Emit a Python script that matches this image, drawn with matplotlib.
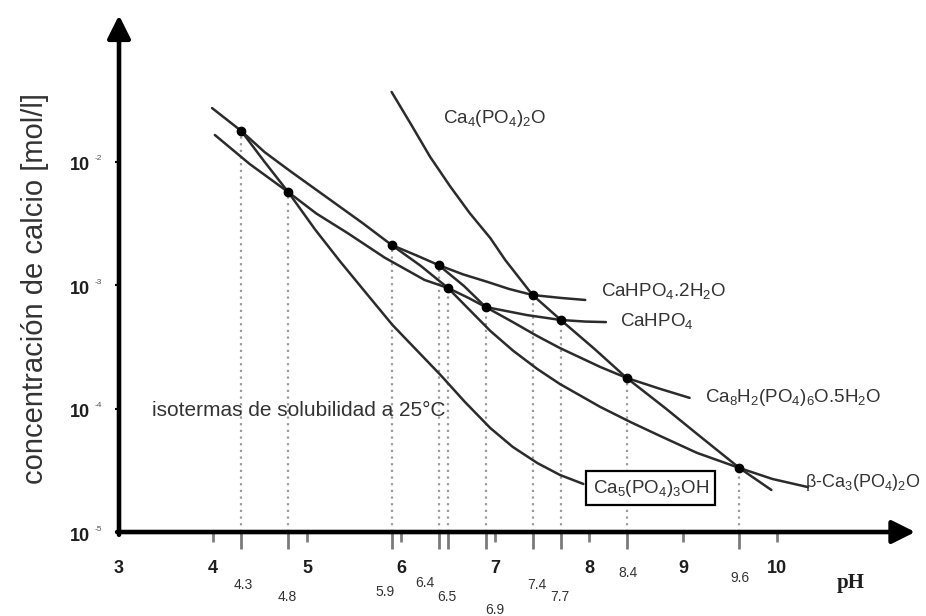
#!/usr/bin/env python3
"""Solubility isotherms of calcium phosphates at 25 C (log Ca vs pH)."""

import matplotlib
matplotlib.use("Agg")
import matplotlib.pyplot as plt

plt.rcParams["font.family"] = ["Liberation Sans", "DejaVu Sans"]
plt.rcParams["mathtext.fontset"] = "custom"
plt.rcParams["mathtext.rm"] = "Liberation Sans"
plt.rcParams["mathtext.it"] = "Liberation Sans:italic"
plt.rcParams["mathtext.bf"] = "Liberation Sans:bold"

# isotherms: pH and calcium concentration [mol/l]
DCPD_PH = [3.99, 4.3, 4.55, 4.82, 5.25, 5.59, 5.9, 6.17, 6.4, 6.66, 6.92, 7.15, 7.4, 7.71, 7.96]
DCPD_CA = [2.71e-2, 1.77e-2, 1.19e-2, 8.38e-3, 4.88e-3, 3.18e-3, 2.11e-3, 1.73e-3, 1.45e-3,
           1.22e-3, 1.06e-3, 9.29e-4, 8.3e-4, 7.85e-4, 7.57e-4]

DCPA_PH = [4.02, 4.39, 4.8, 5.1, 5.43, 5.83, 6.25, 6.5, 6.72, 6.9, 7.34, 7.7, 7.96, 8.18]
DCPA_CA = [1.64e-2, 9.55e-3, 5.66e-3, 3.79e-3, 2.64e-3, 1.66e-3, 1.10e-3, 9.46e-4, 7.85e-4,
           6.64e-4, 5.71e-4, 5.21e-4, 5.06e-4, 5.01e-4]

HA_PH = [4.3, 4.55, 4.8, 5.09, 5.35, 5.62, 5.91, 6.17, 6.42, 6.68, 6.95, 7.19, 7.45, 7.69, 7.94]
HA_CA = [1.77e-2, 9.91e-3, 5.66e-3, 2.79e-3, 1.56e-3, 8.77e-4, 4.74e-4, 2.95e-4, 1.87e-4,
         1.13e-4, 6.95e-5, 4.88e-5, 3.62e-5, 2.90e-5, 2.45e-5]

OCP_PH = [6.4, 6.67, 6.9, 7.19, 7.45, 7.69, 8.12, 8.4, 8.76, 9.07]
OCP_CA = [1.45e-3, 9.82e-4, 6.64e-4, 5.01e-4, 3.86e-4, 3.09e-4, 2.17e-4, 1.77e-4, 1.44e-4, 1.22e-4]

TCP_PH = [5.9, 6.21, 6.5, 6.73, 6.95, 7.19, 7.45, 7.69, 8.12, 8.44, 8.76, 9.15, 9.6, 9.95, 10.33]
TCP_CA = [2.11e-3, 1.43e-3, 9.46e-4, 6.28e-4, 4.25e-4, 2.95e-4, 2.09e-4, 1.58e-4, 1.03e-4,
          7.78e-5, 5.98e-5, 4.37e-5, 3.30e-5, 2.69e-5, 2.31e-5]

TTCP_PH = [5.9, 6.11, 6.31, 6.52, 6.73, 6.95, 7.11, 7.4, 7.7, 8.06, 8.4, 8.81, 9.15, 9.6, 9.94]
TTCP_CA = [3.66e-2, 1.98e-2, 1.09e-2, 6.34e-3, 3.83e-3, 2.40e-3, 1.59e-3, 8.3e-4, 5.21e-4,
           3.03e-4, 1.77e-4, 1.01e-4, 6.22e-5, 3.30e-5, 2.19e-5]

# singular points where two isotherms cross
SINGULAR_PH = [4.3, 4.8, 5.9, 6.4, 6.5, 6.9, 7.4, 7.7, 8.4, 9.6]
SINGULAR_CA = [1.77e-2, 5.66e-3, 2.11e-3, 1.45e-3, 9.46e-4, 6.64e-4, 8.3e-4, 5.21e-4, 1.77e-4, 3.30e-5]
SINGULAR_LABELS = ["4.3", "4.8", "5.9", "6.4", "6.5", "6.9", "7.4", "7.7", "8.4", "9.6"]

PH_TICKS = [3, 4, 5, 6, 7, 8, 9, 10]
CA_DECADES = [1e-5, 1e-4, 1e-3, 1e-2]
CA_EXPONENTS = ["-5", "-4", "-3", "-2"]

LINE = "#2b2b2b"
GREY = "#9a9a9a"
TEXT = "#1e1e1e"

fig = plt.figure(figsize=(9.26, 6.16), dpi=100)
ax = fig.add_axes([0, 0, 1, 1])
ax.set_yscale("log")
ax.set_xlim(1.734, 11.585)
ax.set_ylim(10 ** -5.680, 10 ** -0.692)
ax.axis("off")

# dotted drop lines from each singular point
ax.vlines(SINGULAR_PH, 1e-5, SINGULAR_CA, colors=GREY, linestyles=(0, (1, 2)), lw=1.6)

for ph, ca in [(DCPD_PH, DCPD_CA), (DCPA_PH, DCPA_CA), (HA_PH, HA_CA),
               (OCP_PH, OCP_CA), (TCP_PH, TCP_CA), (TTCP_PH, TTCP_CA)]:
    ax.plot(ph, ca, color=LINE, lw=1.8, solid_capstyle="round", solid_joinstyle="round")

ax.plot(SINGULAR_PH, SINGULAR_CA, "o", color="black", ms=6)

# axes with arrow heads
arrow = dict(arrowstyle="-|>,head_length=0.7,head_width=0.35", lw=3.3, color="black",
             mutation_scale=20, shrinkA=0, shrinkB=0)
ax.annotate("", xy=(3, 0.153), xytext=(3, 0.95e-5), arrowprops=arrow)
ax.annotate("", xy=(11.47, 1e-5), xytext=(2.98, 1e-5), arrowprops=arrow)

# x ticks: short ones at integers, longer ones at singular points
ax.plot(PH_TICKS[1:], [1e-5] * len(PH_TICKS[1:]), ls="none", marker=3, ms=7, mew=2, color="#808080")
ax.plot(SINGULAR_PH, [1e-5] * len(SINGULAR_PH), ls="none", marker=3, ms=12, mew=2, color="#7a7a7a")
ax.plot([3] * len(CA_DECADES), CA_DECADES, ls="none", marker=0, ms=3, mew=1.5, color="black")

for ph in PH_TICKS:
    ax.annotate(str(ph), xy=(ph, 1e-5), xytext=(0, -36), textcoords="offset pixels",
                ha="center", va="center", fontsize=13, fontweight="bold", color=TEXT)

label_offsets = [(2, -53), (-1, -65), (-7, -60), (-14, -51), (-1, -65),
                 (9, -78), (4, -53), (-1, -65), (1, -41), (1, -46)]
for ph, lab, off in zip(SINGULAR_PH, SINGULAR_LABELS, label_offsets):
    ax.annotate(lab, xy=(ph, 1e-5), xytext=off, textcoords="offset pixels",
                ha="center", va="center", fontsize=10, color="#333333")

for ca, ex in zip(CA_DECADES, CA_EXPONENTS):
    ax.annotate("10", xy=(3, ca), xytext=(-29, -4), textcoords="offset pixels",
                ha="right", va="center", fontsize=13, fontweight="bold", color=TEXT)
    ax.annotate(ex, xy=(3, ca), xytext=(-24, 3), textcoords="offset pixels",
                ha="left", va="center", fontsize=6, color="#555555")

ax.annotate("pH", xy=(10.78, 1e-5), xytext=(0, -51), textcoords="offset pixels",
            ha="center", va="center", fontsize=15, fontweight="bold",
            family="Liberation Serif", color=TEXT)

ax.text(2.106, 9.3e-4, "concentración de calcio [mol/l]", rotation=90,
        ha="center", va="center", fontsize=21, color="#333333")
ax.text(3.351, 9.7e-5, "isotermas de solubilidad a 25°C", ha="left", va="center",
        fontsize=15, color="#333333")

# isotherm names
lab = dict(ha="left", va="center", fontsize=13.5, color="#333333")
ax.text(6.45, 2.25e-2, r"Ca$_4$(PO$_4$)$_2$O", **lab)
ax.text(8.13, 8.9e-4, r"CaHPO$_4$.2H$_2$O", **lab)
ax.text(8.33, 5.1e-4, r"CaHPO$_4$", **lab)
ax.text(9.23, 1.22e-4, r"Ca$_8$H$_2$(PO$_4$)$_6$O.5H$_2$O", **lab)
ax.text(10.3, 2.5e-5, r"β-Ca$_3$(PO$_4$)$_2$O", ha="left", va="center", fontsize=13, color="#333333")
ax.text(8.04, 2.27e-5, r"Ca$_5$(PO$_4$)$_3$OH", **lab,
        bbox=dict(boxstyle="square,pad=0.35", fc="white", ec="black", lw=1.6))

fig.savefig("out.png", dpi=100)
